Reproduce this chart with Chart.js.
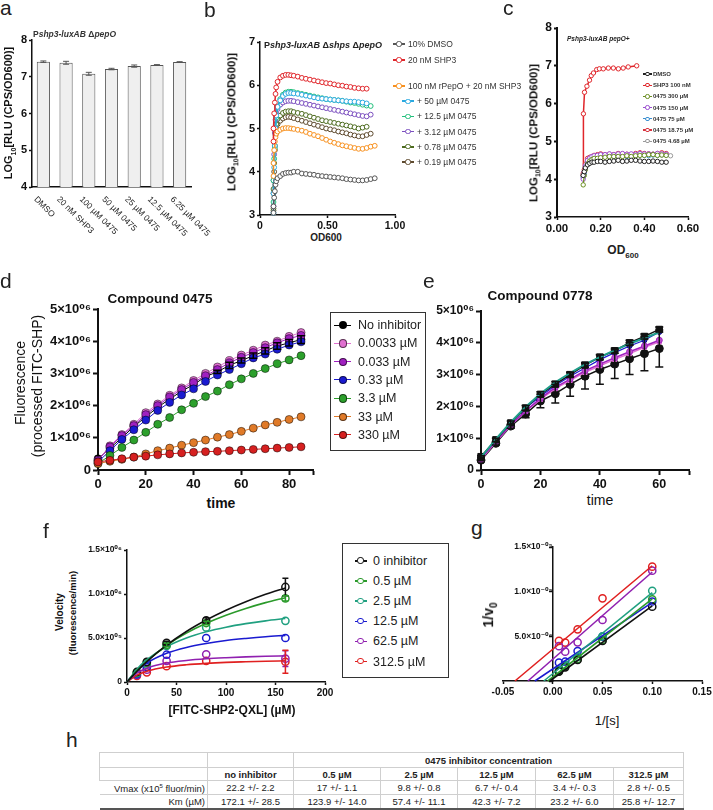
<!DOCTYPE html>
<html>
<head>
<meta charset="utf-8">
<script src="https://cdn.jsdelivr.net/npm/chart.js@4.4.1/dist/chart.umd.min.js"></script>
<style>
  body { margin: 0; background: #fff; font-family: "Liberation Sans", "DejaVu Sans", Arial, sans-serif; color: #222; }
  #page { position: relative; width: 713px; height: 810px; overflow: hidden; background: #fff; }
  canvas { position: absolute; }
  .t { position: absolute; white-space: nowrap; line-height: 1; }
  .box { position: absolute; border: 1px solid #333; background: #fff; }
  #tbl { position: absolute; left: 99px; top: 752px; width: 584px; border-collapse: collapse; font-size: 9.5px; table-layout: fixed; }
  #tbl td { border: 1px solid #cfcfcf; text-align: center; padding: 0 2px; line-height: 11px; white-space: nowrap; color: #222; }
  #tbl tr.hd td { font-weight: bold; }
  #tbl td.lab { text-align: right; }
  #tbl tr.val td.lab { border-left: none; }
  #tbl tr.last td { border-bottom: 2px solid #555; }
</style>
</head>
<body>
<div id="page"></div>
<script>
// ---------- a: Pshp3-luxAB ΔpepO ----------
const aLabels = ['DMSO', '20 nM SHP3', '100 µM 0475', '50 µM 0475', '25 µM 0475', '12.5 µM 0475', '6.25 µM 0475'];
const aValues = [7.41, 7.38, 7.08, 7.21, 7.29, 7.32, 7.40];
const aErrors = [0.02, 0.04, 0.04, 0.02, 0.03, 0.01, 0.01];

// ---------- b: Pshp3-luxAB Δshps ΔpepO ----------
const bLabels = ['10% DMSO', '20 nM SHP3', '100 nM rPepO + 20 nM SHP3', '+ 50 µM 0475', '+ 12.5 µM 0475', '+ 3.12 µM 0475', '+ 0.78 µM 0475', '+ 0.19 µM 0475'];
const bColors = ['#555555', '#e0262b', '#f7901e', '#2aa9e0', '#1fbf7a', '#7b4fbf', '#4d6b1f', '#5e4a2e'];
const bOD = [0.10, 0.10, 0.105, 0.11, 0.115, 0.12, 0.13, 0.15, 0.17, 0.19, 0.21, 0.23, 0.25, 0.28, 0.31, 0.34, 0.37, 0.40, 0.43, 0.46, 0.49, 0.52, 0.55, 0.58, 0.61, 0.64, 0.67, 0.70, 0.73, 0.76, 0.79, 0.82, 0.85];
const bDmso = [3.05, 3.2, 3.4, 3.55, 3.7, 3.78, 3.85, 3.9, 3.95, 3.97, 3.98, 3.98, 4.0, 4.0, 3.96, 3.95, 3.94, 3.93, 3.91, 3.9, 3.89, 3.88, 3.87, 3.86, 3.85, 3.83, 3.82, 3.81, 3.8, 3.8, 3.81, 3.83, 3.85];
const bShp3 = [4.7, 5.0, 5.35, 5.6, 5.8, 5.95, 6.08, 6.18, 6.22, 6.24, 6.24, 6.23, 6.22, 6.2, 6.17, 6.15, 6.13, 6.11, 6.09, 6.07, 6.05, 6.04, 6.02, 6.0, 5.99, 5.97, 5.96, 5.94, 5.93, 5.92, 5.92];
const bPepO = [3.9, 4.2, 4.5, 4.7, 4.8, 4.88, 4.93, 4.97, 5.0, 5.01, 5.01, 5.0, 4.99, 4.97, 4.95, 4.92, 4.88, 4.85, 4.82, 4.78, 4.74, 4.7, 4.67, 4.64, 4.61, 4.59, 4.57, 4.55, 4.53, 4.53, 4.55, 4.58, 4.6];
const b50 = [3.05, 3.5, 4.1, 4.6, 5.0, 5.3, 5.5, 5.65, 5.75, 5.8, 5.82, 5.82, 5.81, 5.8, 5.78, 5.76, 5.74, 5.72, 5.7, 5.69, 5.68, 5.67, 5.66, 5.65, 5.64, 5.63, 5.62, 5.62, 5.61, 5.6, 5.58];
const b12 = [3.3, 3.8, 4.3, 4.55, 4.9, 5.25, 5.5, 5.68, 5.78, 5.83, 5.85, 5.85, 5.84, 5.82, 5.8, 5.78, 5.76, 5.74, 5.72, 5.7, 5.68, 5.67, 5.66, 5.65, 5.64, 5.62, 5.6, 5.59, 5.57, 5.55, 5.53, 5.52];
const b3 = [3.2, 3.8, 4.4, 4.9, 5.2, 5.35, 5.45, 5.55, 5.6, 5.63, 5.64, 5.64, 5.63, 5.61, 5.59, 5.57, 5.55, 5.53, 5.51, 5.49, 5.47, 5.45, 5.43, 5.41, 5.39, 5.37, 5.35, 5.33, 5.31, 5.29, 5.28, 5.32];
const b078 = [3.15, 3.6, 4.2, 4.6, 4.95, 5.1, 5.22, 5.3, 5.36, 5.39, 5.4, 5.4, 5.38, 5.36, 5.34, 5.31, 5.28, 5.25, 5.22, 5.19, 5.17, 5.15, 5.13, 5.11, 5.09, 5.07, 5.05, 5.03, 5.0, 5.02, 5.04];
const b019 = [3.1, 3.5, 4.0, 4.5, 4.85, 5.0, 5.1, 5.18, 5.23, 5.26, 5.27, 5.26, 5.24, 5.21, 5.18, 5.15, 5.12, 5.09, 5.06, 5.03, 5.0, 4.98, 4.96, 4.93, 4.91, 4.89, 4.86, 4.84, 4.82, 4.82, 4.85, 4.88];

// ---------- c: Pshp3-luxAB pepO+ ----------
const cLabels = ['DMSO', 'SHP3 100 nM', '0475 300 µM', '0475 150 µM', '0475 75 µM', '0475 18.75 µM', '0475 4.68 µM'];
const cColors = ['#222222', '#e0262b', '#6b8e23', '#9b4fd0', '#3a8fd0', '#d8343f', '#999999'];
const cODShp3 = [0.12, 0.121, 0.126, 0.137, 0.149, 0.157, 0.167, 0.182, 0.194, 0.212, 0.235, 0.258, 0.281, 0.303, 0.326, 0.365];
const cShp3 = [4.1, 5.73, 6.30, 6.46, 6.62, 6.74, 6.81, 6.90, 6.92, 6.92, 6.94, 6.94, 6.92, 6.94, 6.97, 7.0];
const cOD = [0.12, 0.125, 0.13, 0.14, 0.15, 0.16, 0.17, 0.185, 0.20, 0.22, 0.24, 0.26, 0.28, 0.30, 0.32, 0.34, 0.36, 0.38, 0.40, 0.42, 0.44, 0.46, 0.48, 0.50, 0.52];
const cDmso = [4.1, 4.2, 4.3, 4.38, 4.42, 4.45, 4.45, 4.47, 4.47, 4.45, 4.47, 4.48, 4.5, 4.47, 4.48, 4.5, 4.5, 4.48, 4.47, 4.47, 4.48, 4.47, 4.45, 4.45];
const c300 = [3.85, 4.1, 4.25, 4.4, 4.48, 4.52, 4.55, 4.55, 4.57, 4.58, 4.6, 4.6, 4.6, 4.6, 4.62, 4.6, 4.62, 4.63, 4.63, 4.65, 4.65, 4.63, 4.64, 4.63];
const c150 = [4.0, 4.2, 4.35, 4.5, 4.56, 4.6, 4.62, 4.63, 4.65, 4.65, 4.67, 4.65, 4.67, 4.68, 4.66, 4.67, 4.66, 4.68, 4.67, 4.67, 4.66, 4.68, 4.67, 4.66];
const c75 = [4.05, 4.15, 4.3, 4.45, 4.52, 4.55, 4.57, 4.6, 4.6, 4.62, 4.62, 4.6, 4.62, 4.62, 4.6, 4.63, 4.62, 4.64, 4.63, 4.62, 4.64, 4.63, 4.65, 4.64];
const c1875 = [4.15, 4.25, 4.4, 4.55, 4.58, 4.6, 4.63, 4.65, 4.67, 4.65, 4.66, 4.65, 4.68, 4.67, 4.66, 4.65, 4.68, 4.7, 4.68, 4.67, 4.66, 4.68, 4.7, 4.68];
const c468 = [4.1, 4.2, 4.35, 4.5, 4.53, 4.55, 4.55, 4.57, 4.58, 4.6, 4.6, 4.62, 4.6, 4.62, 4.63, 4.62, 4.63, 4.65, 4.66, 4.65, 4.66, 4.65, 4.64, 4.65, 4.62];

// ---------- d: Compound 0475 (x10^6) ----------
const dLabels = ['No inhibitor', '0.0033 µM', '0.033 µM', '0.33 µM', '3.3 µM', '33 µM', '330 µM'];
const dColors = ['#000000', '#e070d0', '#a020c0', '#1a1ad0', '#2ca02c', '#e07a28', '#d62020'];
const dTime = [0, 5, 10, 15, 20, 25, 30, 35, 40, 45, 50, 55, 60, 65, 70, 75, 80, 85];
const dNone = [0.35, 0.68, 1.0, 1.35, 1.65, 1.95, 2.2, 2.45, 2.65, 2.9, 3.05, 3.25, 3.4, 3.55, 3.7, 3.85, 3.95, 4.05];
const dNoneErr = [0, 0, 0, 0, 0, 0, 0, 0, 0, 0, 0.05, 0.1, 0.08, 0.08, 0.1, 0.1, 0.1, 0.12];
const d00033 = [0.3, 0.75, 1.1, 1.42, 1.78, 2.05, 2.32, 2.55, 2.78, 3.0, 3.2, 3.4, 3.57, 3.72, 3.88, 4.0, 4.15, 4.27];
const d0033 = [0.3, 0.72, 1.07, 1.38, 1.72, 2.0, 2.27, 2.5, 2.72, 2.93, 3.12, 3.33, 3.5, 3.65, 3.8, 3.95, 4.08, 4.18];
const d033 = [0.25, 0.6, 0.95, 1.25, 1.55, 1.85, 2.1, 2.33, 2.52, 2.75, 2.95, 3.12, 3.3, 3.48, 3.6, 3.75, 3.88, 3.98];
const d33 = [0.2, 0.45, 0.7, 0.93, 1.17, 1.42, 1.63, 1.87, 2.07, 2.28, 2.45, 2.65, 2.83, 3.0, 3.15, 3.3, 3.42, 3.55];
const d330 = [0.2, 0.27, 0.33, 0.4, 0.5, 0.6, 0.68, 0.77, 0.85, 0.93, 1.02, 1.1, 1.2, 1.3, 1.4, 1.48, 1.57, 1.65];
const d3300 = [0.25, 0.3, 0.35, 0.4, 0.43, 0.47, 0.5, 0.53, 0.55, 0.57, 0.58, 0.6, 0.62, 0.64, 0.66, 0.68, 0.7, 0.72];

// ---------- e: Compound 0778 (x10^6) ----------
const eTime = [0, 5, 10, 15, 20, 25, 30, 35, 40, 45, 50, 55, 60];
const eTeal = [0.4, 0.97, 1.5, 1.98, 2.4, 2.76, 3.05, 3.32, 3.55, 3.77, 3.97, 4.15, 4.33];
const eSquares = [0.42, 0.95, 1.48, 1.95, 2.38, 2.7, 3.0, 3.3, 3.55, 3.75, 4.0, 4.2, 4.42];
const eSquaresErr = [0.03, 0.05, 0.06, 0.08, 0.08, 0.08, 0.08, 0.08, 0.08, 0.08, 0.08, 0.08, 0.08];
const eBlue = [0.38, 0.93, 1.46, 1.95, 2.32, 2.66, 2.95, 3.21, 3.47, 3.69, 3.9, 4.08, 4.34];
const ePurple = [0.35, 0.9, 1.42, 1.86, 2.25, 2.6, 2.86, 3.12, 3.33, 3.53, 3.72, 3.9, 4.08];
const ePink = [0.33, 0.88, 1.4, 1.84, 2.22, 2.56, 2.82, 3.07, 3.28, 3.48, 3.66, 3.86, 4.03];
const eBlack = [0.31, 0.84, 1.38, 1.76, 2.17, 2.4, 2.69, 2.95, 3.16, 3.33, 3.5, 3.66, 3.82];
const eBlackErr = [0.02, 0.05, 0.07, 0.12, 0.21, 0.29, 0.37, 0.4, 0.46, 0.45, 0.5, 0.54, 0.58];

// ---------- f: Michaelis-Menten (x10^6) ----------
const fLabels = ['0 inhibitor', '0.5 µM', '2.5 µM', '12.5 µM', '62.5 µM', '312.5 µM'];
const fColors = ['#111111', '#2a9a2a', '#20a080', '#1a1ad0', '#9020b0', '#e02020'];
const fSubstrate = [10, 20, 40, 80, 160];
const fPoints = [
  [0.114, 0.228, 0.444, 0.70, 1.08],
  [0.11, 0.22, 0.42, 0.67, 0.95],
  [0.10, 0.20, 0.41, 0.62, 0.695],
  [0.09, 0.17, 0.31, 0.50, 0.50],
  [0.08, 0.14, 0.24, 0.315, 0.265],
  [0.07, 0.11, 0.18, 0.24, 0.23]
];
const fErrors = [
  [0, 0, 0.02, 0.03, 0.1],
  [0, 0, 0.02, 0.02, 0.03],
  [0, 0, 0, 0, 0],
  [0, 0, 0, 0, 0],
  [0, 0, 0, 0, 0.09],
  [0, 0, 0, 0, 0.13]
];
const fCurveX = [0, 10, 20, 40, 60, 80, 100, 120, 140, 160];
const fCurves = [
  [0, 0.122, 0.231, 0.418, 0.574, 0.704, 0.816, 0.912, 0.996, 1.069],
  [0, 0.127, 0.236, 0.415, 0.555, 0.667, 0.759, 0.836, 0.902, 0.958],
  [0, 0.145, 0.253, 0.402, 0.501, 0.571, 0.623, 0.663, 0.695, 0.721],
  [0, 0.128, 0.215, 0.326, 0.393, 0.438, 0.471, 0.495, 0.515, 0.530],
  [0, 0.102, 0.157, 0.215, 0.245, 0.264, 0.276, 0.285, 0.292, 0.297],
  [0, 0.078, 0.122, 0.170, 0.196, 0.212, 0.223, 0.230, 0.236, 0.241]
];

// ---------- g: Lineweaver-Burk (x10^-5) ----------
const gInvS = [0.1, 0.05, 0.025, 0.0125, 0.00625];
const gPoints = [
  [0.832, 0.448, 0.235, 0.153, 0.105],
  [0.914, 0.46, 0.245, 0.165, 0.11],
  [1.01, 0.50, 0.27, 0.18, 0.12],
  [0.89, 0.496, 0.336, 0.216, 0.205],
  [1.235, 0.683, 0.433, 0.328, 0.39],
  [1.28, 0.925, 0.578, 0.43, 0.45]
];
const gLineStart = [-0.003, -0.005, -0.009, -0.018, -0.025, -0.038];
const gLineEnd = [0.84, 0.92, 0.99, 0.88, 1.22, 1.29];

// ---------- h: table ----------
const hHeads = ['no inhibitor', '0.5 µM', '2.5 µM', '12.5 µM', '62.5 µM', '312.5 µM'];
const hVmax = ['22.2 +/- 2.2', '17 +/- 1.1', '9.8 +/- 0.8', '6.7 +/- 0.4', '3.4 +/- 0.3', '2.8 +/- 0.5'];
const hKm = ['172.1 +/- 28.5', '123.9 +/- 14.0', '57.4 +/- 11.1', '42.3 +/- 7.2', '23.2 +/- 6.0', '25.8 +/- 12.7'];

// =====================================================
const FONT = '"Liberation Sans", "DejaVu Sans", Arial, sans-serif';
Chart.defaults.font.family = FONT;
Chart.defaults.color = '#111';
Chart.defaults.animation = false;
Chart.defaults.plugins.legend.display = false;
Chart.defaults.plugins.tooltip.enabled = false;
const page = document.getElementById('page');

function text(html, x, y, css, anchor) {
  const d = document.createElement('div');
  d.className = 't';
  d.innerHTML = html;
  d.style.cssText += css || '';
  d.style.left = x + 'px';
  d.style.top = y + 'px';
  if (anchor === 'c') d.style.transform = 'translate(-50%,-50%)';
  if (anchor === 'l') d.style.transform = 'translate(0,-50%)';
  if (anchor === 'r') d.style.transform = 'translate(-50%,-50%) rotate(-90deg)';
  page.appendChild(d);
  return d;
}
function legendItem(x, y, lw, label, color, o) {
  const line = document.createElement('div');
  line.style.cssText = `position:absolute;left:${x}px;top:${y - o.lineW / 2}px;width:${lw}px;height:${o.lineW}px;background:${color}`;
  page.appendChild(line);
  const c = document.createElement('div');
  const r = o.r;
  c.style.cssText = `position:absolute;left:${x + lw / 2 - r}px;top:${y - r}px;width:${2 * r - 2 * o.bw}px;height:${2 * r - 2 * o.bw}px;border-radius:50%;border:${o.bw}px solid ${o.border || color};background:${o.fill ? color : '#fff'}`;
  page.appendChild(c);
  text(label, x + lw + o.gap, y, o.css, 'l');
}

function linAxis(o) {
  return {
    type: 'linear', min: o.min, max: o.max,
    ticks: { stepSize: o.step, autoSkip: false, maxRotation: 0, padding: o.pad ?? 2,
      font: { size: o.size, weight: 'bold' }, color: '#111', callback: o.fmt || (v => v) },
    grid: { drawOnChartArea: false, drawTicks: true, tickLength: o.tick ?? 4, tickColor: '#111', tickWidth: o.lw ?? 1.5 },
    border: { display: true, color: '#111', width: o.lw ?? 1.5 }
  };
}
function fitTo(opts, box, area, padLeft) {
  const pl = padLeft || 0;
  opts.responsive = false;
  opts.layout = { padding: { left: pl, top: area[1] - box[1], right: box[0] + box[2] - area[2], bottom: 0 } };
  opts.scales.y.afterFit = s => { s.width = area[0] - box[0] - pl; s.paddingTop = 0; s.paddingBottom = 0; };
  opts.scales.x.afterFit = s => { s.height = box[1] + box[3] - area[3]; s.paddingLeft = 0; s.paddingRight = 0; };
  return opts;
}
function draw(box, config) {
  const cv = document.createElement('canvas');
  cv.width = box[2]; cv.height = box[3];
  cv.style.left = box[0] + 'px'; cv.style.top = box[1] + 'px';
  cv.style.width = box[2] + 'px'; cv.style.height = box[3] + 'px';
  page.appendChild(cv);
  return new Chart(cv, config);
}
function series(xs, ys, color, o) {
  return Object.assign({
    data: ys.map((y, i) => ({ x: xs[i], y })),
    borderColor: color, backgroundColor: color,
    pointBorderColor: color, pointBackgroundColor: '#fff',
    borderWidth: 1.5, pointRadius: 2.5, pointBorderWidth: 1, tension: 0, clip: false
  }, o || {});
}

const errorBars = {
  id: 'errorBars',
  afterDatasetsDraw(chart) {
    const ctx = chart.ctx;
    chart.data.datasets.forEach((ds, di) => {
      if (!ds.errors) return;
      const meta = chart.getDatasetMeta(di);
      const ys = chart.scales[meta.yAxisID];
      ctx.save();
      ctx.strokeStyle = ds.errorColor || ds.borderColor;
      ctx.lineWidth = ds.errorWidth || 1;
      meta.data.forEach((el, i) => {
        const e = ds.errors[i];
        if (!e) return;
        const v = ds.data[i];
        const val = typeof v === 'object' ? v.y : v;
        const t = ys.getPixelForValue(val + e), b = ys.getPixelForValue(val - e);
        const x = el.x, c = ds.capWidth || 3;
        ctx.beginPath();
        ctx.moveTo(x, t); ctx.lineTo(x, b);
        ctx.moveTo(x - c, t); ctx.lineTo(x + c, t);
        ctx.moveTo(x - c, b); ctx.lineTo(x + c, b);
        ctx.stroke();
      });
      ctx.restore();
    });
  }
};

// ---------- a ----------
const aBox = [0, 30, 228, 220], aArea = [32, 40, 191, 187];
const slantLabels = {
  id: 'slant',
  afterDraw(chart) {
    const ctx = chart.ctx, xs = chart.scales.x, y0 = chart.chartArea.bottom;
    ctx.save();
    ctx.font = '8.5px ' + FONT;
    ctx.fillStyle = '#222';
    ctx.textBaseline = 'middle';
    aLabels.forEach((l, i) => {
      ctx.save();
      ctx.translate(xs.getPixelForTick(i) - 8, y0 + 11);
      ctx.rotate(Math.PI / 4);
      ctx.fillText(l, 0, 0);
      ctx.restore();
    });
    ctx.restore();
  }
};
draw(aBox, {
  type: 'bar',
  data: { labels: aLabels, datasets: [{ data: aValues, errors: aErrors, errorColor: '#555', capWidth: 3,
    backgroundColor: '#efefef', borderColor: '#555', borderWidth: 1, barPercentage: 0.58, categoryPercentage: 1 }] },
  options: fitTo({ scales: {
    x: { type: 'category', ticks: { display: false }, grid: { display: false }, border: { display: true, color: '#111', width: 1.5 } },
    y: linAxis({ min: 4, max: 8, step: 1, size: 11, tick: 3 })
  } }, aBox, aArea),
  plugins: [errorBars, slantLabels]
});
text('a', 0, -3, 'font-size:21px');
text('<b>P<i>shp3-luxAB</i> Δ<i>pepO</i></b>', 33, 34, 'font-size:8.5px;color:#333', 'l');
text('<b>LOG<sub style="font-size:7px">10</sub>[RLU (CPS/OD600)]</b>', 10, 113, 'font-size:11px;color:#111', 'r');

// ---------- b ----------
const bBox = [236, 30, 180, 200], bArea = [260, 42, 395, 215];
const bSeries = [bDmso, bShp3, bPepO, b50, b12, b3, b078, b019];
draw(bBox, {
  type: 'line',
  data: { datasets: bSeries.map((ys, i) => series(bOD, ys, bColors[i], { borderWidth: 1.5, pointRadius: 2.4 })) },
  options: fitTo({ scales: {
    x: linAxis({ min: 0, max: 1, step: 0.5, size: 10.5, tick: 3, fmt: v => v === 0 ? '0' : v.toFixed(2) }),
    y: linAxis({ min: 3, max: 7, step: 1, size: 11, tick: 3 })
  } }, bBox, bArea)
});
text('b', 204, -1, 'font-size:21px');
text('<b>P<i>shp3-luxAB</i> Δ<i>shps</i> Δ<i>pepO</i></b>', 264, 45, 'font-size:9px;color:#222', 'l');
text('<b>LOG<sub style="font-size:7px">10</sub>[RLU (CPS/OD600)]</b>', 233, 122, 'font-size:11.5px;color:#111', 'r');
text('<b>OD600</b>', 326, 238, 'font-size:10px;color:#222', 'c');
bLabels.forEach((l, i) => {
  const y = i < 2 ? 44 + 16 * i : 86 + 15.2 * (i - 2);
  const x = i < 3 ? 393 : 402;
  legendItem(x, y, 12, l, bColors[i], { lineW: 1.5, r: 2.6, bw: 1, gap: 3, css: 'font-size:8.5px;color:#333' });
});

// ---------- c ----------
const cBox = [540, 15, 170, 225], cArea = [557, 28, 688, 217];
const cSeries = [cDmso, null, c300, c150, c75, c1875, c468];
const cDatasets = [];
cSeries.forEach((ys, i) => {
  if (ys) cDatasets.push(series(cOD, ys, cColors[i], { borderWidth: 1.2, pointRadius: 2.2 }));
});
cDatasets.push(series(cODShp3, cShp3, cColors[1], { borderWidth: 1.5, pointRadius: 2.2 }));
draw(cBox, {
  type: 'line',
  data: { datasets: cDatasets },
  options: fitTo({ scales: {
    x: linAxis({ min: 0, max: 0.6, step: 0.2, size: 11.5, tick: 3, fmt: v => v.toFixed(2) }),
    y: linAxis({ min: 3, max: 8, step: 1, size: 12, tick: 3, lw: 2 })
  } }, cBox, cArea)
});
text('c', 503, -3, 'font-size:21px');
text('<b><i>Pshp3-luxAB pepO+</i></b>', 567, 39, 'font-size:6.5px;color:#222', 'l');
text('<b>LOG<sub style="font-size:7px">10</sub>[RLU (CPS/OD600)]</b>', 535, 133, 'font-size:11.5px;color:#111', 'r');
text('<b>OD<sub style="font-size:8px">600</sub></b>', 623, 252, 'font-size:12px;color:#222', 'c');
cLabels.forEach((l, i) => {
  legendItem(643, 74 + 11.2 * i, 9, l, cColors[i], { lineW: 1.2, r: 2.2, bw: 1, gap: 1, css: 'font-size:6px;font-weight:bold;color:#333' });
});

// ---------- d ----------
const dBox = [45, 300, 280, 195], dArea = [98, 309, 313, 470];
const dSeries = [dNone, d00033, d0033, d033, d33, d330, d3300];
const sci6 = v => v === 0 ? '0' : (v / 1e6) + '×10⁰⁶';
const dDatasets = dSeries.map((ys, i) => series(dTime, ys.map(v => v * 1e6), dColors[i], {
  borderWidth: 1, pointRadius: 4, pointBackgroundColor: dColors[i], pointBorderColor: 'rgba(0,0,0,0.6)', pointBorderWidth: 0.8,
  errors: i === 0 ? dNoneErr.map(v => v * 1e6) : null, errorColor: '#000', capWidth: 4, errorWidth: 1.5
})).reverse();
draw(dBox, {
  type: 'line',
  data: { datasets: dDatasets },
  options: fitTo({ scales: {
    x: linAxis({ min: 0, max: 90, step: 20, size: 13, tick: 5, lw: 2, fmt: v => v > 80 ? '' : v }),
    y: linAxis({ min: 0, max: 5e6, step: 1e6, size: 13, tick: 5, lw: 2, fmt: sci6 })
  } }, dBox, dArea),
  plugins: [errorBars]
});
text('d', 0, 270, 'font-size:21px');
text('<b>Compound 0475</b>', 160, 299, 'font-size:13.5px;color:#111', 'c');
text('Fluorescence', 20, 383, 'font-size:14px;color:#111', 'r');
text('(processed FITC-SHP)', 37, 386, 'font-size:14px;color:#111', 'r');
text('<b>time</b>', 221, 503, 'font-size:14px;color:#111', 'c');
const dBoxEl = document.createElement('div');
dBoxEl.className = 'box';
dBoxEl.style.cssText += 'left:330px;top:312px;width:94px;height:137px';
page.appendChild(dBoxEl);
dLabels.forEach((l, i) => {
  legendItem(334, 325 + 18.3 * i, 17, l, dColors[i], { lineW: 1, r: 4, bw: 0.8, fill: true, border: 'rgba(0,0,0,0.6)', gap: 7, css: 'font-size:12.5px;color:#222' });
});

// ---------- e ----------
const eBox = [425, 300, 285, 190], eArea = [481, 311, 689, 470];
const m6 = a => a.map(v => v * 1e6);
draw(eBox, {
  type: 'line',
  data: { datasets: [
    series(eTime, m6(eTeal), '#1f9e8a', { borderWidth: 2, pointRadius: 0 }),
    series(eTime, m6(eSquares), '#111', { borderWidth: 1.5, pointRadius: 4.5, pointStyle: 'rect', pointBackgroundColor: '#111', errors: m6(eSquaresErr), capWidth: 4, errorWidth: 1.5 }),
    series(eTime, m6(ePurple), '#a020c0', { borderWidth: 1.5, pointRadius: 3, pointBackgroundColor: '#c050d0' }),
    series(eTime, m6(ePink), '#e070d0', { borderWidth: 1.5, pointRadius: 3, pointStyle: 'rect', pointBackgroundColor: '#f0a0e0' }),
    series(eTime, m6(eBlue), '#1a1ad0', { borderWidth: 1.2, pointRadius: 2.5, pointBackgroundColor: '#3030e0', pointBorderColor: '#0a0a80' }),
    series(eTime, m6(eBlack), '#111', { borderWidth: 1.5, pointRadius: 4, pointBackgroundColor: '#111', errors: m6(eBlackErr), capWidth: 4, errorWidth: 1.5 })
  ] },
  options: fitTo({ scales: {
    x: linAxis({ min: 0, max: 70, step: 20, size: 12.5, tick: 5, lw: 2, fmt: v => v > 60 ? '' : v }),
    y: linAxis({ min: 0, max: 5e6, step: 1e6, size: 12, tick: 5, lw: 2, fmt: sci6 })
  } }, eBox, eArea),
  plugins: [errorBars]
});
text('e', 423, 270, 'font-size:21px');
text('<b>Compound 0778</b>', 540, 296, 'font-size:13.5px;color:#111', 'c');
text('time', 600, 500, 'font-size:14px;color:#111', 'c');

// ---------- f ----------
const fBox = [80, 540, 255, 165], fArea = [127, 550, 325, 682];
const fDatasets = [];
fCurves.forEach((ys, i) => fDatasets.push(series(fCurveX, m6(ys), fColors[i], { pointRadius: 0, borderWidth: 1.6, cubicInterpolationMode: 'monotone' })));
fPoints.forEach((ys, i) => fDatasets.push(series(fSubstrate, m6(ys), fColors[i], {
  showLine: false, pointRadius: 3.6, pointBorderWidth: 1.5, pointBackgroundColor: 'rgba(255,255,255,0)',
  errors: m6(fErrors[i]), capWidth: 3, errorWidth: 1.5
})));
const sciF = v => v === 0 ? '0' : v < 9e5 ? (v / 1e5).toFixed(1) + '×10⁰⁵' : (v / 1e6).toFixed(1) + '×10⁰⁶';
draw(fBox, {
  type: 'line',
  data: { datasets: fDatasets },
  options: fitTo({ scales: {
    x: linAxis({ min: 0, max: 200, step: 50, size: 10, tick: 3, lw: 1.5 }),
    y: linAxis({ min: 0, max: 1.5e6, step: 5e5, size: 8.5, tick: 3, lw: 1.5, fmt: sciF })
  } }, fBox, fArea),
  plugins: [errorBars]
});
text('f', 43, 520, 'font-size:21px');
text('<b>Velocity</b>', 60, 612, 'font-size:10px;color:#111', 'r');
text('<b>(fluorescence/min)</b>', 73, 613, 'font-size:9.5px;color:#111', 'r');
text('<b>[FITC-SHP2-QXL] (µM)</b>', 232, 710, 'font-size:12px;color:#111', 'c');
const fBoxEl = document.createElement('div');
fBoxEl.className = 'box';
fBoxEl.style.cssText += 'left:342px;top:543px;width:105px;height:133px';
page.appendChild(fBoxEl);
fLabels.forEach((l, i) => {
  legendItem(355, 561 + 20.1 * i, 12, l, fColors[i], { lineW: 1.5, r: 3.6, bw: 1.5, gap: 6, css: 'font-size:12.5px;color:#222' });
});

// ---------- g ----------
const gBox = [482, 540, 231, 165], gArea = [503, 547, 702, 681];
const gDatasets = [];
gLineStart.forEach((x0, i) => gDatasets.push(series([x0, 0.1], [0, gLineEnd[i] * 1e-5], fColors[i], { pointRadius: 0, borderWidth: 1.6 })));
gPoints.forEach((ys, i) => gDatasets.push(series(gInvS, ys.map(v => v * 1e-5), fColors[i], {
  showLine: false, pointRadius: 3.6, pointBorderWidth: 1.5, pointBackgroundColor: 'rgba(255,255,255,0)'
})));
const sciG = v => {
  const m = v * 1e6;
  if (Math.abs(m) < 1e-6) return '';
  return m < 9 ? m.toFixed(1) + '×10⁻⁰⁶' : (m / 10).toFixed(1) + '×10⁻⁰⁵';
};
const gY = linAxis({ min: 0, max: 1.5e-5, step: 5e-6, size: 8.5, tick: 3, lw: 1.5, fmt: sciG });
gY.position = { x: 0 };
draw(gBox, {
  type: 'line',
  data: { datasets: gDatasets },
  options: fitTo({ scales: {
    x: linAxis({ min: -0.05, max: 0.15, step: 0.05, size: 10, tick: 3, lw: 1.5, fmt: v => Math.abs(v) < 1e-9 ? '0.00' : v.toFixed(2) }),
    y: gY
  } }, gBox, gArea, 21)
});
text('g', 471, 517, 'font-size:21px');
text('<b>1/v<sub style="font-size:10px">0</sub></b>', 490, 615, 'font-size:14px;color:#111', 'r');
text('1/[s]', 607, 720, 'font-size:13px;color:#111', 'c');

// ---------- h ----------
text('h', 66, 729, 'font-size:21px');
const tbl = document.createElement('table');
tbl.id = 'tbl';
const widths = [108, 86, 87, 77, 78, 78, 70];
let html = '<colgroup>' + widths.map(w => `<col style="width:${w}px">`).join('') + '</colgroup>';
html += '<tr class="hd" style="height:15px"><td class="lab"></td><td></td><td colspan="5">0475 inhibitor concentration</td></tr>';
html += '<tr class="hd" style="height:13px"><td class="lab"></td>' + hHeads.map(h => `<td>${h}</td>`).join('') + '</tr>';
html += '<tr class="val" style="height:13px"><td class="lab">Vmax (x10<sup style="font-size:6px">5</sup> fluor/min)</td>' + hVmax.map(v => `<td>${v}</td>`).join('') + '</tr>';
html += '<tr class="val last" style="height:14px"><td class="lab">Km (µM)</td>' + hKm.map(v => `<td>${v}</td>`).join('') + '</tr>';
tbl.innerHTML = html;
page.appendChild(tbl);
</script>
</body>
</html>
